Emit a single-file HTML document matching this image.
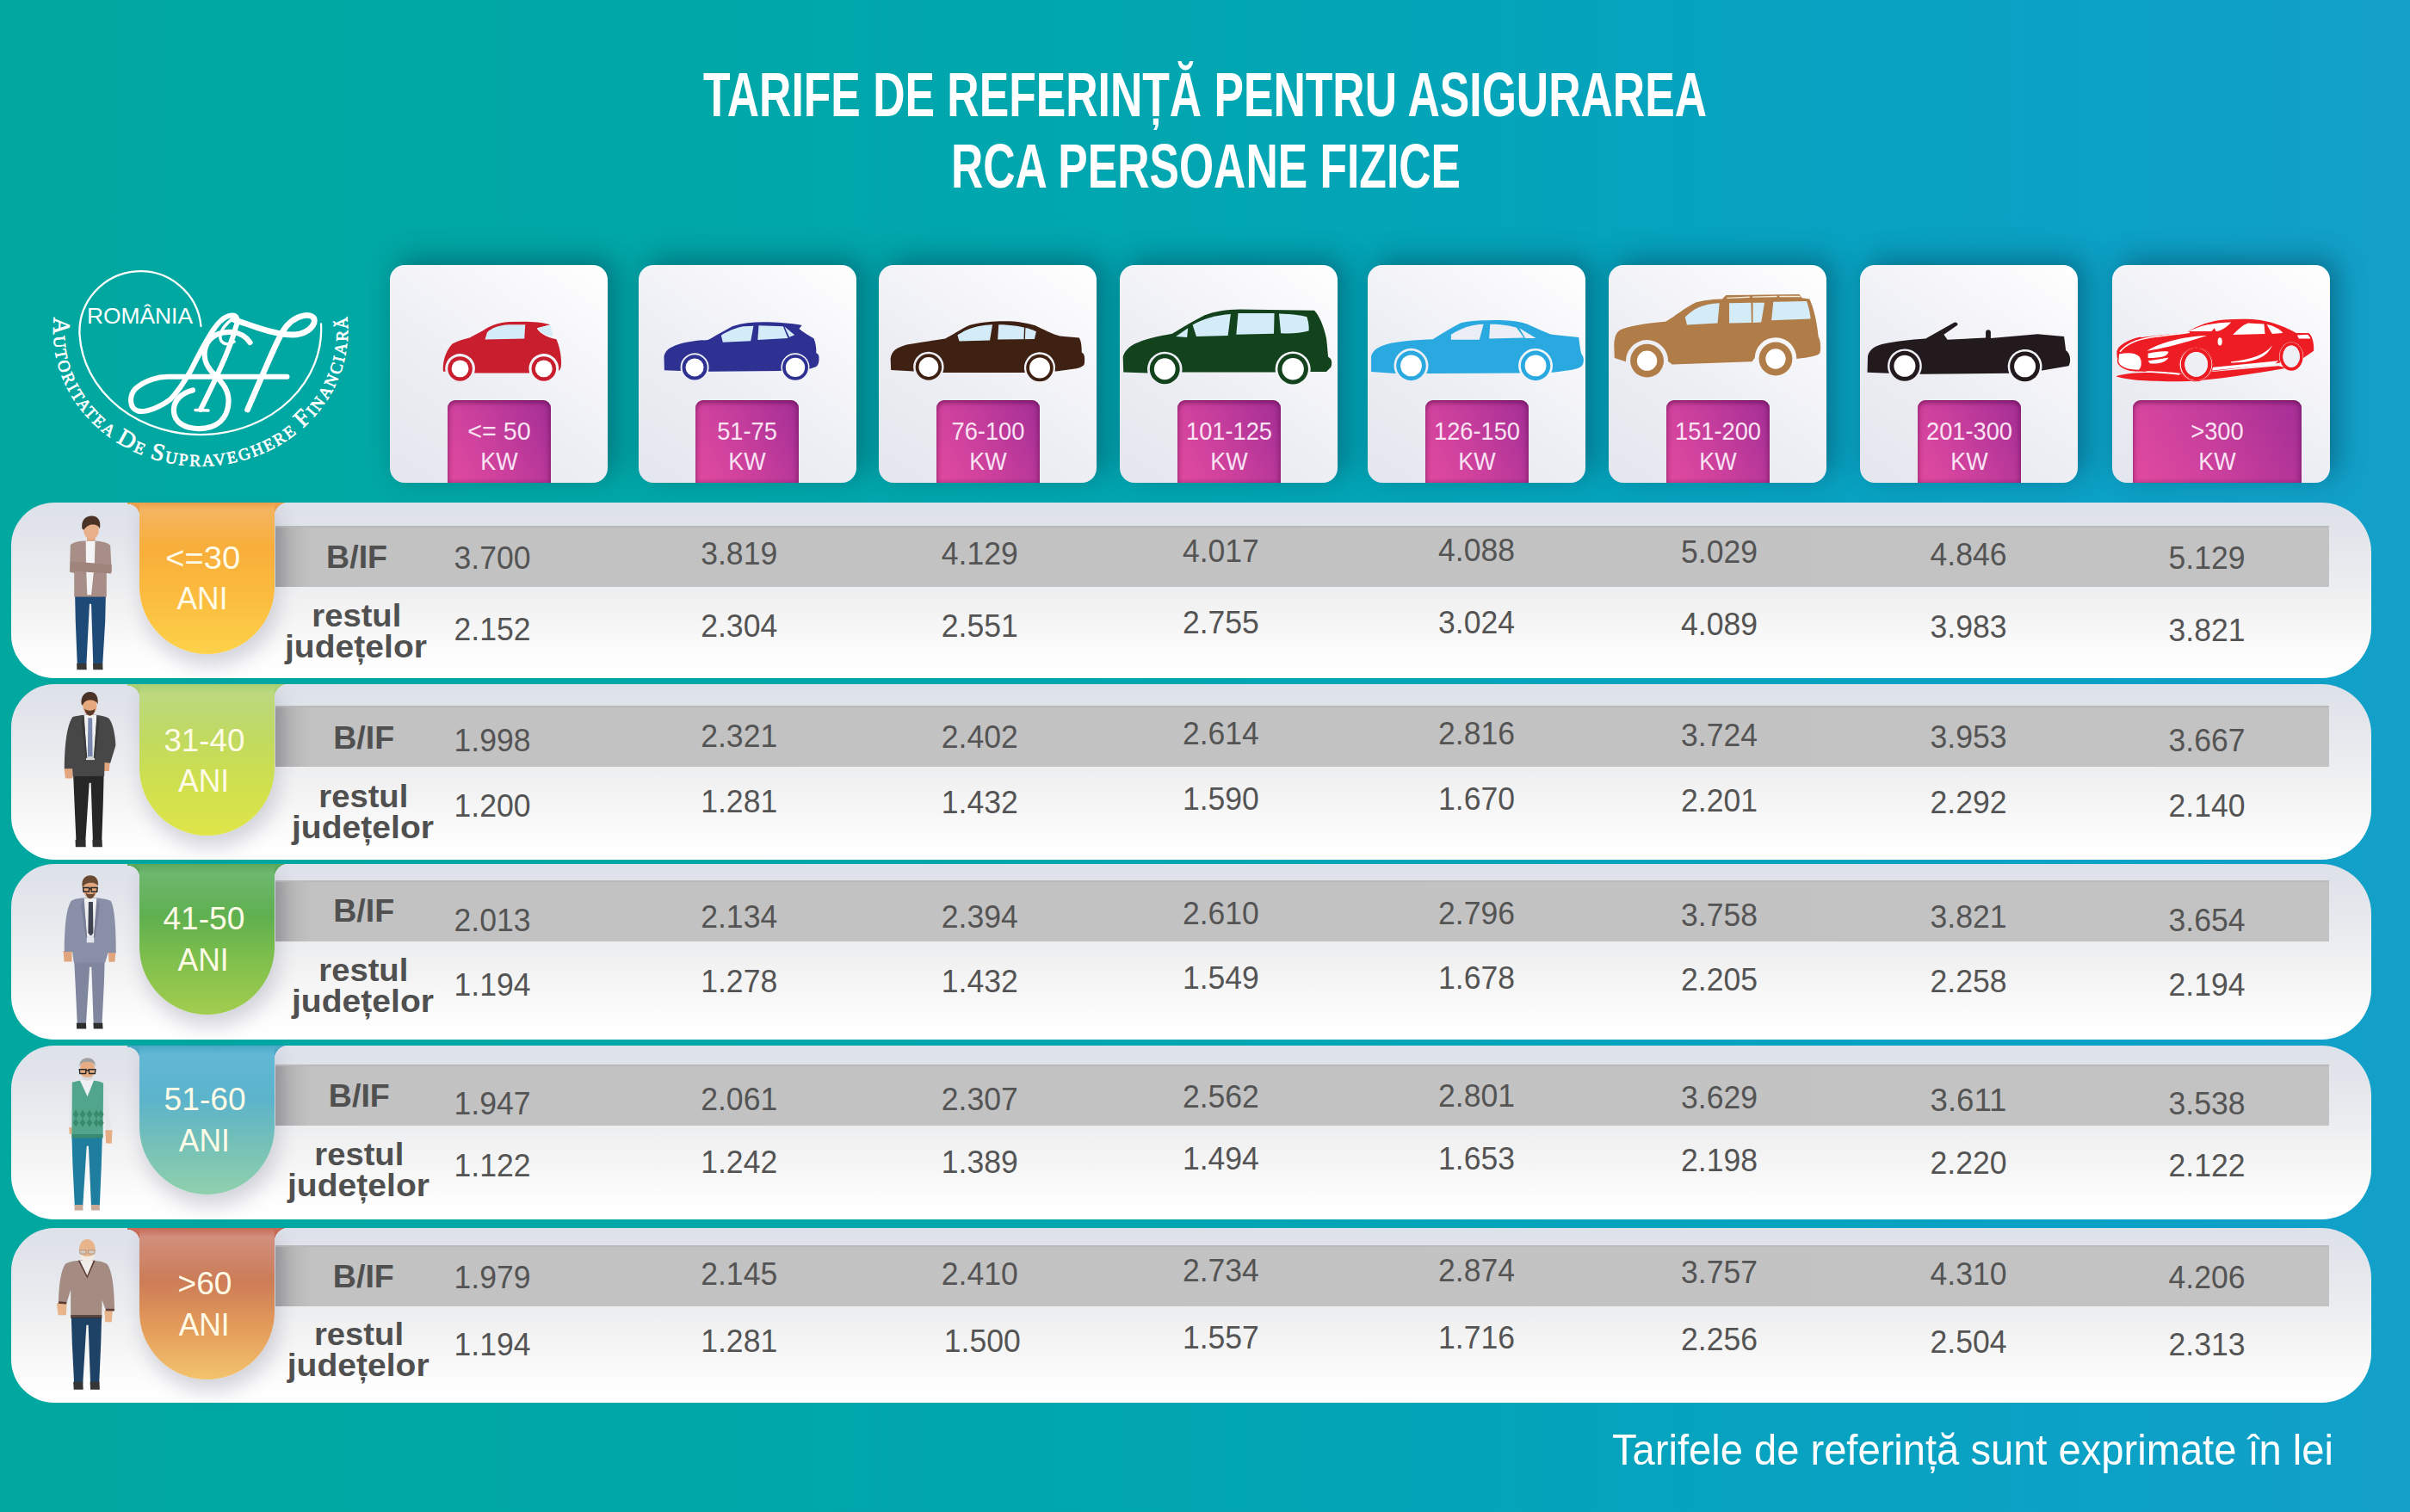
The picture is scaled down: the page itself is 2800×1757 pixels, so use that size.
<!DOCTYPE html>
<html><head><meta charset="utf-8"><title>Tarife RCA</title>
<style>
html,body{margin:0;padding:0;}
body{width:2800px;height:1757px;overflow:hidden;position:relative;
background:linear-gradient(90deg,#00a89f 0%,#00a7a9 30%,#01a6b2 50%,#06a3bf 70%,#0ca1c6 88%,#13a0c9 100%);
font-family:"Liberation Sans",sans-serif;}
.abs{position:absolute;}
.card{position:absolute;top:308px;width:253px;height:253px;border-radius:17px;
background:linear-gradient(35deg,#e3e6ed 0%,#eeeff5 45%,#ffffff 100%);
box-shadow:9px -8px 32px rgba(0,45,65,0.42);overflow:hidden;}
.lab{position:absolute;top:157px;height:96px;border-radius:9px 9px 0 0;
background:linear-gradient(60deg,#e24ba0 0%,#c93f9c 45%,#a32e96 100%);
box-shadow:inset 0 3px 5px rgba(90,10,70,0.45), inset 3px 0 6px rgba(90,10,70,0.15), inset -3px 0 6px rgba(90,10,70,0.2);}
.panel{position:absolute;left:13px;width:2742px;border-radius:50px 58px 58px 50px;
background:linear-gradient(180deg,#dde1e9 0%,#e0e3ea 12%,#eceef0 48%,#f1f1f2 55%,#f5f5f5 68%,#f9f9f9 78%,#fdfdfd 88%,#ffffff 100%);}
.band{position:absolute;left:320px;width:2386px;height:71px;
background:linear-gradient(90deg,#a3a3a3 0px,#b6b6b6 18px,#c2c2c2 42px,#c3c3c3 100%);border-top:2px solid #b9b9b9;box-sizing:border-box;}
.tab{position:absolute;left:162px;width:157px;border-radius:0 0 79px 79px;
box-shadow:4px 14px 22px rgba(70,70,110,0.22);}
.fl{position:absolute;width:14px;height:16px;}
svg{position:absolute;left:0;top:0;}
</style></head><body>

<div class="card" style="left:453px"><div class="lab" style="left:67px;width:120px"></div></div>
<div class="card" style="left:742px"><div class="lab" style="left:66px;width:120px"></div></div>
<div class="card" style="left:1021px"><div class="lab" style="left:67px;width:120px"></div></div>
<div class="card" style="left:1301px"><div class="lab" style="left:67px;width:120px"></div></div>
<div class="card" style="left:1589px"><div class="lab" style="left:67px;width:120px"></div></div>
<div class="card" style="left:1869px"><div class="lab" style="left:67px;width:120px"></div></div>
<div class="card" style="left:2161px"><div class="lab" style="left:67px;width:120px"></div></div>
<div class="card" style="left:2454px"><div class="lab" style="left:24px;width:196px"></div></div>
<div class="panel" style="top:584px;height:203.5px"></div>
<div class="band" style="top:611px"></div>
<div class="tab" style="top:584px;height:176px;background:linear-gradient(180deg,#ec9f4c 0%,#f4b560 5%,#f8ae3a 30%,#fbbd3f 65%,#fdd24a 100%)"></div>
<div class="fl" style="left:148px;top:584px;background:radial-gradient(circle at 0 100%,transparent 14px,#ec9f4c 14.5px)"></div>
<div class="fl" style="left:319px;top:584px;width:16px;background:radial-gradient(circle at 100% 100%,transparent 16px,#ec9f4c 16.5px)"></div>
<div class="panel" style="top:795px;height:203.5px"></div>
<div class="band" style="top:820px"></div>
<div class="tab" style="top:795px;height:176px;background:linear-gradient(180deg,#a9cf73 0%,#bcd97f 6%,#c0da60 35%,#cfe04e 65%,#dfe54a 100%)"></div>
<div class="fl" style="left:148px;top:795px;background:radial-gradient(circle at 0 100%,transparent 14px,#a9cf73 14.5px)"></div>
<div class="fl" style="left:319px;top:795px;width:16px;background:radial-gradient(circle at 100% 100%,transparent 16px,#a9cf73 16.5px)"></div>
<div class="panel" style="top:1004px;height:203.5px"></div>
<div class="band" style="top:1023px"></div>
<div class="tab" style="top:1004px;height:175px;background:linear-gradient(180deg,#5ca95e 0%,#6cb86e 6%,#5fb04f 35%,#80c04c 65%,#a2cd4f 100%)"></div>
<div class="fl" style="left:148px;top:1004px;background:radial-gradient(circle at 0 100%,transparent 14px,#5ca95e 14.5px)"></div>
<div class="fl" style="left:319px;top:1004px;width:16px;background:radial-gradient(circle at 100% 100%,transparent 16px,#5ca95e 16.5px)"></div>
<div class="panel" style="top:1214.5px;height:202.5px"></div>
<div class="band" style="top:1236.5px"></div>
<div class="tab" style="top:1214.5px;height:173.5px;background:linear-gradient(180deg,#4aa8c6 0%,#62b8d4 6%,#5bb3cc 35%,#74c0b8 65%,#90d0ad 100%)"></div>
<div class="fl" style="left:148px;top:1214.5px;background:radial-gradient(circle at 0 100%,transparent 14px,#4aa8c6 14.5px)"></div>
<div class="fl" style="left:319px;top:1214.5px;width:16px;background:radial-gradient(circle at 100% 100%,transparent 16px,#4aa8c6 16.5px)"></div>
<div class="panel" style="top:1427px;height:203px"></div>
<div class="band" style="top:1447px"></div>
<div class="tab" style="top:1427px;height:176px;background:linear-gradient(180deg,#c76a58 0%,#d18f7c 6%,#cc7c57 35%,#e39b5a 65%,#f3c36d 100%)"></div>
<div class="fl" style="left:148px;top:1427px;background:radial-gradient(circle at 0 100%,transparent 14px,#c76a58 14.5px)"></div>
<div class="fl" style="left:319px;top:1427px;width:16px;background:radial-gradient(circle at 100% 100%,transparent 16px,#c76a58 16.5px)"></div>
<svg width="2800" height="1757" viewBox="0 0 2800 1757">
<g fill="#ffffff" font-family="Liberation Sans" font-weight="bold" font-size="72.7">
<text x="817" y="135" textLength="1166" lengthAdjust="spacingAndGlyphs">TARIFE DE REFERINȚĂ PENTRU ASIGURAREA</text>
<text x="1105" y="218" textLength="592" lengthAdjust="spacingAndGlyphs">RCA PERSOANE FIZICE</text>
</g>

<g id="logo" fill="none" stroke="#ffffff" stroke-linecap="round" stroke-linejoin="round">
 <path d="M 373,376.5 A 140,122 0 0 1 92.5,389 A 70.7,70.7 0 0 1 233.5,379" stroke-width="2.3"/>
 <path d="M 333.5,437.8 L 197.7,437.8 C 185,437 168,442 157,452 C 150,460 150,474 160,477.5 C 170,480 188,472 198,464 C 206,456 214,444 222,430 C 232,410 240,395 248,383 C 254,374 262,367 269,366.5 C 276,366 277,372 274,380 C 270,395 262,415 254,432 C 246,450 239,464 233,476" stroke-width="6"/>
 <path d="M 227,476.5 L 242,477" stroke-width="3.5"/>
 <path d="M 290.5,398 C 286,391 280,387 270,386 C 255,385 243,391 239,403 C 235,415 240,427 250,436 C 260,446 266,455 265.5,467 C 265,482 257,492 245,496 C 232,500 215,498 207,490 C 200,482 200,470 208,462 C 213,457 218,455 224,453.5" stroke-width="6.2"/>
 <path d="M 271,370 C 262,376 255,385 256,393 C 257,400 266,402 272,397" stroke-width="3.5"/>
 <path d="M 271.8,371.5 C 280,374 288,377 300,381 C 315,386 330,389 340,389 C 352,389 362,383 365,375 C 367,368 360,365 352,367 C 342,369 334,376 328,386 C 320,400 312,420 304,438 C 298,452 292,466 287.6,476" stroke-width="6.8"/>
 <text x="101" y="375.7" fill="#ffffff" stroke="none" font-family="Liberation Sans" font-size="25" textLength="123" lengthAdjust="spacingAndGlyphs">ROMÂNIA</text>
 <path id="arcp" d="M 62.9,368.6 A 171,157 0 1 0 403.1,368.6" stroke="none"/>
 <text fill="#ffffff" stroke="#ffffff" stroke-width="0.7" font-family="Liberation Serif" font-size="19.5" letter-spacing="2.2"><textPath href="#arcp" startOffset="0"><tspan font-size="28">A</tspan>UTORITATEA <tspan font-size="28">D</tspan>E <tspan font-size="28">S</tspan>UPRAVEGHERE <tspan font-size="28">F</tspan>INANCIARĂ</textPath></text>
</g>

<g transform="translate(505,365) scale(0.06639)"><path d="M150,1005 C135,870 175,660 310,520 C400,470 520,440 610,415 L850,285 C950,215 1100,150 1300,135 L1600,130 C1800,135 1950,160 2025,185 L1790,245 C1820,320 1950,410 2130,440 C2185,560 2220,740 2215,870 C2212,940 2195,985 2165,995 L2168,1000 A262,262 0 1 0 1659,1030 L725,1030 L696,1030 A262,262 0 1 0 188,1005 Z" fill="#c81e2e"/><path d="M880,445 L920,320 C1000,240 1120,195 1300,185 L1585,183 L1570,430 Z" fill="#d3ecf8"/><path d="M1790,250 L2020,192 C2045,260 2060,330 2070,400 C1950,380 1870,330 1790,250 Z" fill="#d3ecf8"/><circle cx="445" cy="955" r="215" fill="#c81e2e"/><circle cx="445" cy="955" r="150" fill="#ffffff"/><circle cx="1910" cy="955" r="215" fill="#c81e2e"/><circle cx="1910" cy="955" r="150" fill="#ffffff"/></g>
<g transform="translate(765,365) scale(0.08091)"><path d="M85,805 L80,610 C95,540 130,500 200,470 C300,420 450,390 620,375 C680,380 720,370 760,345 C850,290 960,230 1060,175 C1200,130 1350,115 1500,115 C1700,115 1900,130 2060,160 L2020,210 C2080,260 2150,300 2230,350 C2260,420 2270,500 2265,560 C2300,570 2310,600 2305,660 C2300,720 2280,750 2250,760 L2160,790 L2168,790 A205,205 0 1 0 1766,815 L745,825 L716,825 A205,205 0 1 0 321,815 Z" fill="#2e3192"/><path d="M925,405 L900,305 C980,250 1100,200 1220,175 L1365,170 L1325,385 Z" fill="#d3ecf8"/><path d="M1425,370 L1440,165 L1790,175 L1860,345 Z" fill="#d3ecf8"/><path d="M1810,180 L1880,330 L1955,300 Z" fill="#d3ecf8"/><circle cx="520" cy="765" r="180" fill="#2e3192"/><circle cx="520" cy="765" r="130" fill="#ffffff"/><circle cx="1965" cy="765" r="185" fill="#2e3192"/><circle cx="1965" cy="765" r="138" fill="#ffffff"/></g>
<g transform="translate(1025,365) scale(0.10166)"><path d="M100,640 L95,510 C110,420 150,390 280,350 C450,320 600,300 720,280 C800,240 900,170 1000,125 C1150,90 1250,80 1400,80 C1550,80 1650,100 1750,130 C1850,180 1950,230 2030,250 L2250,270 C2270,300 2280,350 2280,440 C2310,450 2320,490 2310,570 C2300,600 2250,615 2200,625 L1990,655 L1973,655 A178,178 0 1 0 1631,670 L710,670 L692,670 A175,175 0 1 0 362,655 Z" fill="#3f2113"/><path d="M880,310 L860,240 C950,180 1050,130 1260,120 L1230,300 Z" fill="#d3ecf8"/><path d="M1320,290 L1330,120 C1450,120 1650,140 1760,200 L1740,285 Z" fill="#d3ecf8"/><circle cx="530" cy="605" r="150" fill="#3f2113"/><circle cx="530" cy="605" r="112" fill="#ffffff"/><circle cx="1800" cy="615" r="155" fill="#3f2113"/><circle cx="1800" cy="615" r="118" fill="#ffffff"/><path d="M1630,150 L1625,290" stroke="#3f2113" stroke-width="14"/></g>
<g transform="translate(1295,350) scale(0.10789)"><path d="M95,765 L90,600 C120,500 200,450 380,400 C480,375 570,360 620,350 C750,270 850,210 970,150 C1080,110 1200,90 1350,88 L2150,100 C2200,150 2250,260 2280,400 C2290,480 2295,550 2300,600 C2340,620 2345,660 2330,710 L2280,760 L2115,760 L2108,760 A190,190 0 1 0 1733,765 L735,765 L725,765 A188,188 0 1 0 357,775 Z" fill="#13431d"/><path d="M660,380 L790,290 L780,390 Z" fill="#d3ecf8"/><path d="M880,380 L840,255 C950,190 1100,150 1250,140 L1220,370 Z" fill="#d3ecf8"/><path d="M1310,360 L1330,130 L1720,130 L1715,350 Z" fill="#d3ecf8"/><path d="M1790,345 L1770,135 C1900,140 2000,150 2070,170 C2090,230 2095,290 2090,320 C2000,345 1900,350 1790,345 Z" fill="#d3ecf8"/><circle cx="540" cy="730" r="162" fill="#13431d"/><circle cx="540" cy="730" r="115" fill="#ffffff"/><circle cx="1920" cy="730" r="165" fill="#13431d"/><circle cx="1920" cy="730" r="118" fill="#ffffff"/></g>
<g transform="translate(1585,365) scale(0.10789)"><path d="M75,620 L75,450 C100,380 160,340 300,310 C450,285 600,275 740,270 C850,200 950,140 1040,95 C1150,70 1300,65 1450,65 C1600,68 1700,85 1760,110 C1850,150 1950,200 2020,220 L2310,250 C2320,330 2330,400 2340,430 C2370,460 2370,530 2340,560 C2310,590 2250,600 2030,628 L2015,628 A185,185 0 1 0 1678,635 L710,640 L669,640 A185,185 0 1 0 341,640 Z" fill="#2aa8e0"/><path d="M935,275 L935,220 C1050,150 1150,115 1285,110 L1240,275 Z" fill="#ebeef5"/><path d="M1345,265 L1355,110 C1480,110 1580,130 1640,145 L1720,255 Z" fill="#ebeef5"/><path d="M1670,150 L1850,260 L1735,260 Z" fill="#ebeef5"/><circle cx="505" cy="555" r="160" fill="#2aa8e0"/><circle cx="505" cy="555" r="115" fill="#ffffff"/><circle cx="1845" cy="555" r="160" fill="#2aa8e0"/><circle cx="1845" cy="555" r="115" fill="#ffffff"/></g>
<g transform="translate(1865,335) scale(0.10789)"><path d="M100,750 L95,610 C100,520 120,460 180,440 C300,400 500,370 650,360 C750,300 870,200 980,150 C1100,120 1200,115 1260,115 L1300,75 L2090,65 L2120,105 L2200,115 C2240,200 2280,350 2295,520 C2320,560 2325,650 2310,700 C2280,730 2200,745 2060,760 L2060,760 A225,225 0 1 0 1610,750 L1580,790 L720,820 L670,780 L678,780 A228,228 0 1 0 222,790 Z" fill="#b07c48"/><path d="M880,395 L860,310 C950,220 1050,170 1230,160 L1210,375 Z" fill="#d3ecf8"/><path d="M1335,375 L1335,160 L1570,155 L1575,370 Z" fill="#d3ecf8"/><path d="M1590,370 L1590,155 L1715,155 L1680,365 Z" fill="#d3ecf8"/><path d="M1790,345 L1810,145 L2170,140 C2190,200 2210,280 2210,330 Z" fill="#d3ecf8"/><circle cx="450" cy="780" r="180" fill="#b07c48"/><circle cx="450" cy="780" r="108" fill="#ffffff"/><circle cx="1835" cy="760" r="180" fill="#b07c48"/><circle cx="1835" cy="760" r="108" fill="#ffffff"/><path d="M1310,100 L1555,88 L1555,102 L1310,112 Z M1585,88 L1850,82 L1850,96 L1585,100 Z M1875,82 L2095,80 L2105,96 L1875,96 Z" fill="#f3ead8"/></g>
<g transform="translate(2160,365) scale(0.10581)"><path d="M90,640 L95,460 C110,400 150,360 250,330 C400,300 550,280 730,270 L1040,95 C1060,80 1090,100 1080,120 L930,225 L970,280 L1390,260 L1390,195 C1395,165 1440,165 1445,195 L1445,265 L1960,220 L2250,245 L2270,400 C2320,430 2330,520 2300,570 L2010,618 L2003,618 A188,188 0 1 0 1648,650 L690,660 L665,660 A188,188 0 1 0 330,650 Z" fill="#231a1e"/><circle cx="500" cy="570" r="165" fill="#231a1e"/><circle cx="500" cy="570" r="118" fill="#ffffff"/><circle cx="1820" cy="575" r="165" fill="#231a1e"/><circle cx="1820" cy="575" r="118" fill="#ffffff"/></g>
<g transform="translate(2450,360) scale(0.10373)"><path d="M90,470 C100,400 200,340 350,310 C500,290 700,270 870,255 C1000,170 1150,120 1300,110 C1450,100 1600,100 1700,115 C1850,140 2000,200 2100,260 L2240,260 C2290,300 2300,400 2295,460 L2180,540 L1880,600 L1150,690 L790,720 C600,700 400,690 300,690 C150,680 90,620 90,470 Z" fill="#ee1d23"/><path d="M80,745 C200,700 500,690 800,720 L1100,700 L1900,630 L2000,650 C1600,720 1200,780 900,800 C500,810 200,790 80,745 Z" fill="#ee1d23"/><path d="M110,490 C200,470 300,470 350,520 C385,580 375,655 335,680 C200,680 115,640 102,580 Z" fill="#ffffff" stroke="#ee1d23" stroke-width="14"/><path d="M430,460 C550,380 800,300 1100,290 C900,350 700,420 430,460 Z" fill="#ffffff"/><path d="M440,490 C520,470 620,460 670,470 C660,520 600,540 440,540 Z" fill="#ffffff"/><path d="M440,570 C540,560 620,545 670,535 C640,590 560,610 460,600 Z" fill="#ffffff"/><path d="M900,240 C1000,180 1200,140 1370,140 C1320,200 1250,240 1200,240 L1185,205 L1150,240 Z" fill="#ffffff"/><path d="M1390,280 C1450,220 1500,170 1560,150 L1740,160 L1750,270 Z" fill="#ffffff"/><path d="M1770,165 C1850,180 1920,220 1950,260 L1830,270 Z" fill="#ffffff"/><path d="M1150,645 L1900,570 L1860,610 L1160,680 Z" fill="#ffffff"/><path d="M1370,580 C1600,560 1750,500 1830,400 C1780,520 1650,595 1370,592 Z" fill="#ffffff"/><ellipse cx="1245" cy="355" rx="25" ry="45" fill="#ffffff"/><path d="M420,688 C550,690 700,700 800,712 L790,730 C680,720 540,708 420,700 Z" fill="#ffffff"/><path d="M2110,285 L2230,278 L2262,322 L2130,322 Z" fill="#ffffff"/><path d="M100,470 C150,380 250,330 360,310" fill="none" stroke="#ee1d23" stroke-width="12"/><path d="M125,470 C190,385 300,335 470,308 C650,285 800,268 905,252" fill="none" stroke="#ffffff" stroke-width="16"/><circle cx="978" cy="612" r="190" fill="#ffffff"/><circle cx="978" cy="612" r="186" fill="none" stroke="#ee1d23" stroke-width="10"/><ellipse cx="980" cy="610" rx="150" ry="160" fill="none" stroke="#ee1d23" stroke-width="44"/><ellipse cx="980" cy="612" rx="128" ry="138" fill="#eef0f6"/><ellipse cx="2045" cy="522" rx="135" ry="160" fill="#ffffff"/><ellipse cx="2045" cy="522" rx="112" ry="140" fill="none" stroke="#ee1d23" stroke-width="38"/><ellipse cx="2045" cy="522" rx="95" ry="122" fill="#eef0f6"/></g>
<g fill="#fbe3f4" font-family="Liberation Sans" font-size="29" text-anchor="middle">
<text x="580.0" y="511" textLength="73.4" lengthAdjust="spacingAndGlyphs">&lt;= 50</text>
<text x="580.0" y="545.5" textLength="43.4" lengthAdjust="spacingAndGlyphs">KW</text>
<text x="868.0" y="511" textLength="69.7" lengthAdjust="spacingAndGlyphs">51-75</text>
<text x="868.0" y="545.5" textLength="43.4" lengthAdjust="spacingAndGlyphs">KW</text>
<text x="1148.0" y="511" textLength="84.9" lengthAdjust="spacingAndGlyphs">76-100</text>
<text x="1148.0" y="545.5" textLength="43.4" lengthAdjust="spacingAndGlyphs">KW</text>
<text x="1428.0" y="511" textLength="100.0" lengthAdjust="spacingAndGlyphs">101-125</text>
<text x="1428.0" y="545.5" textLength="43.4" lengthAdjust="spacingAndGlyphs">KW</text>
<text x="1716.0" y="511" textLength="100.0" lengthAdjust="spacingAndGlyphs">126-150</text>
<text x="1716.0" y="545.5" textLength="43.4" lengthAdjust="spacingAndGlyphs">KW</text>
<text x="1996.0" y="511" textLength="100.0" lengthAdjust="spacingAndGlyphs">151-200</text>
<text x="1996.0" y="545.5" textLength="43.4" lengthAdjust="spacingAndGlyphs">KW</text>
<text x="2288.0" y="511" textLength="100.0" lengthAdjust="spacingAndGlyphs">201-300</text>
<text x="2288.0" y="545.5" textLength="43.4" lengthAdjust="spacingAndGlyphs">KW</text>
<text x="2576.0" y="511" textLength="61.4" lengthAdjust="spacingAndGlyphs">&gt;300</text>
<text x="2576.0" y="545.5" textLength="43.4" lengthAdjust="spacingAndGlyphs">KW</text>
</g>
<g transform="translate(60,590) scale(0.13235)"><path d="M205,770 L475,770 L470,1000 L447,1380 L365,1380 L348,845 L332,845 L305,1380 L225,1380 L210,1000 Z" fill="#1e4a77"/><path d="M220,1368 L305,1368 L308,1422 L222,1422 Z M362,1368 L447,1368 L450,1422 L365,1422 Z" fill="#3a3835"/><path d="M310,235 L382,235 L382,305 L310,305 Z" fill="#dfa47b"/><path d="M165,325 C195,298 255,290 300,290 L382,290 C432,295 492,302 515,330 L527,565 L482,575 L482,782 L198,782 L198,575 L158,565 Z" fill="#a78f87"/><path d="M300,292 L382,292 L376,500 L348,765 L312,765 L302,500 Z" fill="#f4f4f6"/><path d="M165,470 C250,478 400,488 527,500 L522,578 C400,572 260,562 168,556 Z" fill="#9e847b"/><ellipse cx="347" cy="190" rx="68" ry="90" fill="#e8b08a"/><path d="M268,185 C255,110 300,72 350,72 C412,72 435,118 423,185 C405,140 330,128 282,195 Z" fill="#4a3225"/></g>
<g transform="translate(60,800) scale(0.13235)"><path d="M190,755 L458,755 L452,1000 L440,1340 L362,1340 L345,830 L330,830 L297,1340 L215,1340 L200,1000 Z" fill="#262626"/><path d="M208,1328 L298,1328 L300,1392 L210,1392 Z M358,1328 L442,1328 L445,1392 L360,1392 Z" fill="#2f2f2f"/><path d="M110,700 L182,700 L185,790 L120,790 Z M440,640 L512,640 L505,725 L448,725 Z" fill="#e2a67e"/><path d="M185,250 C230,238 280,232 300,232 L392,232 C420,236 470,245 500,260 C540,300 560,420 562,500 L515,655 L465,650 L462,768 L186,772 L182,705 L112,705 C115,500 130,330 185,250 Z" fill="#474747"/><path d="M285,235 L395,235 L372,612 L308,612 Z" fill="#f2f2f2"/><path d="M320,258 L356,258 L360,600 L316,600 Z" fill="#7b88ad"/><path d="M302,600 L378,600 L378,628 L302,628 Z" fill="#d8d8d8"/><path d="M282,240 L312,610 L300,612 L262,300 Z M398,240 L368,610 L380,612 L420,300 Z" fill="#3b3b3b"/><ellipse cx="335" cy="150" rx="62" ry="88" fill="#e6a97e"/><path d="M288,175 C295,215 315,238 335,238 C360,238 378,215 382,175 C370,200 300,200 288,175 Z" fill="#5a3a28"/><path d="M262,140 C252,70 290,30 335,30 C390,30 412,72 405,140 C395,95 290,80 272,150 Z" fill="#4a3326"/></g>
<g transform="translate(60,1010) scale(0.13235)"><path d="M198,800 L466,800 L460,1000 L442,1362 L368,1362 L350,860 L333,860 L302,1362 L225,1362 L208,1000 Z" fill="#7f869e"/><path d="M218,1350 L302,1350 L304,1402 L220,1402 Z M366,1350 L447,1350 L450,1402 L368,1402 Z" fill="#2e2e2e"/><path d="M102,718 L178,718 L178,812 L110,812 Z M498,728 L562,728 L555,815 L502,815 Z" fill="#e0a57c"/><path d="M175,275 C220,258 270,252 300,252 L392,252 C430,256 490,265 520,280 C550,330 565,500 565,735 L495,735 L470,820 L195,822 L182,725 L112,725 C112,500 130,330 175,275 Z" fill="#8a8fa8"/><path d="M285,255 L395,255 L370,600 L310,600 Z" fill="#f0f0f2"/><path d="M324,288 L362,288 L366,560 L344,590 L320,560 Z" fill="#3e4452"/><path d="M308,582 L372,582 L372,645 L308,645 Z" fill="#e4e6ee"/><path d="M280,260 L312,600 L300,602 L258,320 Z M400,260 L368,600 L380,602 L424,320 Z" fill="#7a7f98"/><ellipse cx="338" cy="165" rx="64" ry="90" fill="#e0a57c"/><path d="M300,205 C305,240 320,258 338,258 C360,258 375,240 380,205 C365,225 315,225 300,205 Z" fill="#6b4a34"/><path d="M276,162 L330,162 L328,198 L280,198 Z M346,162 L402,162 L398,198 L350,198 Z M330,172 L346,172" fill="none" stroke="#2f2a28" stroke-width="11"/><path d="M268,150 C260,85 300,55 338,55 C385,55 415,88 408,150 C398,112 300,100 272,160 Z" fill="#6b4a34"/></g>
<g transform="translate(55,1220) scale(0.13235)"><path d="M190,300 L232,300 L240,700 L195,712 Z M478,300 L520,300 L560,720 L515,728 Z" fill="#e4e6ea"/><path d="M215,765 L482,765 L475,1000 L460,1368 L385,1368 L362,845 L345,845 L312,1368 L240,1368 L222,1000 Z" fill="#1f7da0"/><path d="M238,1360 L312,1360 L314,1410 L240,1410 Z M383,1360 L458,1360 L460,1410 L386,1410 Z" fill="#c9aa98"/><path d="M190,680 L270,690 L265,740 L195,738 Z M508,705 L570,705 L565,822 L515,820 Z" fill="#e6ad84"/><path d="M218,285 C250,275 280,270 300,268 L400,268 C430,272 470,278 492,292 L488,765 L215,765 Z" fill="#50a58b"/><path d="M285,265 L410,265 L352,410 Z" fill="#eef0f2"/><path d="M250,527 L276,565 L250,603 L224,565 Z M310,527 L336,565 L310,603 L284,565 Z M370,527 L396,565 L370,603 L344,565 Z M430,527 L456,565 L430,603 L404,565 Z M470,527 L496,565 L470,603 L444,565 Z M250,602 L276,640 L250,678 L224,640 Z M310,602 L336,640 L310,678 L284,640 Z M370,602 L396,640 L370,678 L344,640 Z M430,602 L456,640 L430,678 L404,640 Z M470,602 L496,640 L470,678 L444,640 Z" fill="#3a8a6e"/><path d="M215,740 L488,740 L488,775 L215,775 Z" fill="#3a8a72"/><ellipse cx="352" cy="170" rx="64" ry="92" fill="#e6ad84"/><path d="M282,150 C280,95 315,70 352,70 C392,70 425,95 422,150 C415,120 400,105 352,105 C305,105 290,120 282,150 Z" fill="#a0a0a0"/><path d="M282,172 L340,172 L337,208 L286,208 Z M364,172 L422,172 L418,208 L368,208 Z M340,182 L364,182" fill="none" stroke="#2e2a28" stroke-width="11"/><path d="M305,228 C315,258 335,270 352,270 C372,270 390,258 400,228 C380,245 325,245 305,228 Z" fill="#d8d8d8"/></g>
<g transform="translate(55,1430) scale(0.13235)"><path d="M210,755 L477,755 L470,1000 L455,1342 L378,1342 L360,830 L343,830 L312,1342 L235,1342 L218,1000 Z" fill="#1e4266"/><path d="M228,1328 L312,1328 L315,1395 L232,1395 Z M375,1328 L457,1328 L460,1395 L378,1395 Z" fill="#353535"/><path d="M82,640 L170,640 L165,742 L95,742 Z M500,700 L572,700 L565,802 L508,802 Z" fill="#e8b48c"/><path d="M160,290 C200,270 260,262 290,262 L405,262 C440,265 490,272 520,290 C565,330 590,500 590,700 L515,705 L480,610 L478,762 L205,762 L205,520 L168,640 L98,640 C100,480 120,340 160,290 Z" fill="#a48c83"/><path d="M98,622 L170,628 L166,646 L96,640 Z M515,685 L590,688 L586,706 L512,704 Z" fill="#5b3d35"/><path d="M270,262 L420,262 L350,420 Z" fill="#5b3d35"/><path d="M285,262 L405,262 L350,395 Z" fill="#f0eeea"/><path d="M205,740 L478,740 L478,770 L205,770 Z" fill="#3b2a26" opacity="0.7"/><ellipse cx="350" cy="165" rx="72" ry="90" fill="#e8b48c"/><path d="M285,200 C292,255 320,285 350,285 C382,285 410,255 418,200 C395,235 310,235 285,200 Z" fill="#efeae2"/><path d="M284,172 L342,172 L339,205 L288,205 Z M358,172 L418,172 L414,205 L362,205 Z" fill="#cfd8e0" opacity="0.6" stroke="#8a7a70" stroke-width="7"/></g>
<g fill="#fffbe6" font-family="Liberation Sans" font-size="37.5" text-anchor="middle">
<text x="235.8" y="660.5" textLength="87" lengthAdjust="spacingAndGlyphs">&lt;=30</text>
<text x="235.0" y="707.7" textLength="59" lengthAdjust="spacingAndGlyphs">ANI</text>
<text x="237.4" y="872.8" textLength="94" lengthAdjust="spacingAndGlyphs">31-40</text>
<text x="236.6" y="919.7" textLength="59" lengthAdjust="spacingAndGlyphs">ANI</text>
<text x="236.9" y="1080.4" textLength="95" lengthAdjust="spacingAndGlyphs">41-50</text>
<text x="236.1" y="1127.9" textLength="59" lengthAdjust="spacingAndGlyphs">ANI</text>
<text x="238.1" y="1290" textLength="95" lengthAdjust="spacingAndGlyphs">51-60</text>
<text x="237.29999999999998" y="1338.3" textLength="59" lengthAdjust="spacingAndGlyphs">ANI</text>
<text x="238.0" y="1503.9" textLength="63" lengthAdjust="spacingAndGlyphs">&gt;60</text>
<text x="237.2" y="1552.3" textLength="59" lengthAdjust="spacingAndGlyphs">ANI</text>
</g>
<g fill="#505050" font-family="Liberation Sans" font-weight="bold" font-size="37" text-anchor="middle">
<text x="414.6" y="660.2" textLength="71" lengthAdjust="spacingAndGlyphs">B/IF</text>
<text x="414.3" y="727.7" textLength="104" lengthAdjust="spacingAndGlyphs">restul</text>
<text x="413.5" y="764.0" textLength="165" lengthAdjust="spacingAndGlyphs">județelor</text>
<text x="422.7" y="870.1" textLength="71" lengthAdjust="spacingAndGlyphs">B/IF</text>
<text x="422.3" y="937.6" textLength="104" lengthAdjust="spacingAndGlyphs">restul</text>
<text x="421.5" y="973.9" textLength="165" lengthAdjust="spacingAndGlyphs">județelor</text>
<text x="422.7" y="1071.2" textLength="71" lengthAdjust="spacingAndGlyphs">B/IF</text>
<text x="422.3" y="1139.5" textLength="104" lengthAdjust="spacingAndGlyphs">restul</text>
<text x="421.5" y="1175.8" textLength="165" lengthAdjust="spacingAndGlyphs">județelor</text>
<text x="417.3" y="1286.2" textLength="71" lengthAdjust="spacingAndGlyphs">B/IF</text>
<text x="417.3" y="1354" textLength="104" lengthAdjust="spacingAndGlyphs">restul</text>
<text x="416.5" y="1390.3" textLength="165" lengthAdjust="spacingAndGlyphs">județelor</text>
<text x="422.3" y="1496.2" textLength="71" lengthAdjust="spacingAndGlyphs">B/IF</text>
<text x="417.0" y="1563" textLength="104" lengthAdjust="spacingAndGlyphs">restul</text>
<text x="416.2" y="1599.3" textLength="165" lengthAdjust="spacingAndGlyphs">județelor</text>
</g>
<g fill="#545454" font-family="Liberation Sans" font-size="37.5">
<text x="527.6" y="660.5" textLength="89" lengthAdjust="spacingAndGlyphs">3.700</text>
<text x="814.2" y="656.1" textLength="89" lengthAdjust="spacingAndGlyphs">3.819</text>
<text x="1093.8" y="656.3" textLength="89" lengthAdjust="spacingAndGlyphs">4.129</text>
<text x="1373.9" y="652.5" textLength="89" lengthAdjust="spacingAndGlyphs">4.017</text>
<text x="1671.0" y="652.3" textLength="89" lengthAdjust="spacingAndGlyphs">4.088</text>
<text x="1953.1" y="654.3" textLength="89" lengthAdjust="spacingAndGlyphs">5.029</text>
<text x="2242.5" y="656.9" textLength="89" lengthAdjust="spacingAndGlyphs">4.846</text>
<text x="2519.5" y="660.7" textLength="89" lengthAdjust="spacingAndGlyphs">5.129</text>
<text x="527.6" y="744.3" textLength="89" lengthAdjust="spacingAndGlyphs">2.152</text>
<text x="814.2" y="739.9" textLength="89" lengthAdjust="spacingAndGlyphs">2.304</text>
<text x="1093.8" y="740.1" textLength="89" lengthAdjust="spacingAndGlyphs">2.551</text>
<text x="1373.9" y="736.3" textLength="89" lengthAdjust="spacingAndGlyphs">2.755</text>
<text x="1671.0" y="736.1" textLength="89" lengthAdjust="spacingAndGlyphs">3.024</text>
<text x="1953.1" y="738.1" textLength="89" lengthAdjust="spacingAndGlyphs">4.089</text>
<text x="2242.5" y="740.7" textLength="89" lengthAdjust="spacingAndGlyphs">3.983</text>
<text x="2519.5" y="744.5" textLength="89" lengthAdjust="spacingAndGlyphs">3.821</text>
<text x="527.6" y="872.8" textLength="89" lengthAdjust="spacingAndGlyphs">1.998</text>
<text x="814.2" y="868.4" textLength="89" lengthAdjust="spacingAndGlyphs">2.321</text>
<text x="1093.8" y="868.6" textLength="89" lengthAdjust="spacingAndGlyphs">2.402</text>
<text x="1373.9" y="864.8" textLength="89" lengthAdjust="spacingAndGlyphs">2.614</text>
<text x="1671.0" y="864.6" textLength="89" lengthAdjust="spacingAndGlyphs">2.816</text>
<text x="1953.1" y="866.6" textLength="89" lengthAdjust="spacingAndGlyphs">3.724</text>
<text x="2242.5" y="869.2" textLength="89" lengthAdjust="spacingAndGlyphs">3.953</text>
<text x="2519.5" y="873.0" textLength="89" lengthAdjust="spacingAndGlyphs">3.667</text>
<text x="527.6" y="948.8" textLength="89" lengthAdjust="spacingAndGlyphs">1.200</text>
<text x="814.2" y="944.4" textLength="89" lengthAdjust="spacingAndGlyphs">1.281</text>
<text x="1093.8" y="944.6" textLength="89" lengthAdjust="spacingAndGlyphs">1.432</text>
<text x="1373.9" y="940.8" textLength="89" lengthAdjust="spacingAndGlyphs">1.590</text>
<text x="1671.0" y="940.6" textLength="89" lengthAdjust="spacingAndGlyphs">1.670</text>
<text x="1953.1" y="942.6" textLength="89" lengthAdjust="spacingAndGlyphs">2.201</text>
<text x="2242.5" y="945.2" textLength="89" lengthAdjust="spacingAndGlyphs">2.292</text>
<text x="2519.5" y="949.0" textLength="89" lengthAdjust="spacingAndGlyphs">2.140</text>
<text x="527.6" y="1082.0" textLength="89" lengthAdjust="spacingAndGlyphs">2.013</text>
<text x="814.2" y="1077.6" textLength="89" lengthAdjust="spacingAndGlyphs">2.134</text>
<text x="1093.8" y="1077.8" textLength="89" lengthAdjust="spacingAndGlyphs">2.394</text>
<text x="1373.9" y="1074.0" textLength="89" lengthAdjust="spacingAndGlyphs">2.610</text>
<text x="1671.0" y="1073.8" textLength="89" lengthAdjust="spacingAndGlyphs">2.796</text>
<text x="1953.1" y="1075.8" textLength="89" lengthAdjust="spacingAndGlyphs">3.758</text>
<text x="2242.5" y="1078.4" textLength="89" lengthAdjust="spacingAndGlyphs">3.821</text>
<text x="2519.5" y="1082.2" textLength="89" lengthAdjust="spacingAndGlyphs">3.654</text>
<text x="527.6" y="1156.9" textLength="89" lengthAdjust="spacingAndGlyphs">1.194</text>
<text x="814.2" y="1152.5" textLength="89" lengthAdjust="spacingAndGlyphs">1.278</text>
<text x="1093.8" y="1152.7" textLength="89" lengthAdjust="spacingAndGlyphs">1.432</text>
<text x="1373.9" y="1148.9" textLength="89" lengthAdjust="spacingAndGlyphs">1.549</text>
<text x="1671.0" y="1148.7" textLength="89" lengthAdjust="spacingAndGlyphs">1.678</text>
<text x="1953.1" y="1150.7" textLength="89" lengthAdjust="spacingAndGlyphs">2.205</text>
<text x="2242.5" y="1153.3" textLength="89" lengthAdjust="spacingAndGlyphs">2.258</text>
<text x="2519.5" y="1157.1" textLength="89" lengthAdjust="spacingAndGlyphs">2.194</text>
<text x="527.6" y="1294.5" textLength="89" lengthAdjust="spacingAndGlyphs">1.947</text>
<text x="814.2" y="1290.1" textLength="89" lengthAdjust="spacingAndGlyphs">2.061</text>
<text x="1093.8" y="1290.3" textLength="89" lengthAdjust="spacingAndGlyphs">2.307</text>
<text x="1373.9" y="1286.5" textLength="89" lengthAdjust="spacingAndGlyphs">2.562</text>
<text x="1671.0" y="1286.3" textLength="89" lengthAdjust="spacingAndGlyphs">2.801</text>
<text x="1953.1" y="1288.3" textLength="89" lengthAdjust="spacingAndGlyphs">3.629</text>
<text x="2242.5" y="1290.9" textLength="89" lengthAdjust="spacingAndGlyphs">3.611</text>
<text x="2519.5" y="1294.7" textLength="89" lengthAdjust="spacingAndGlyphs">3.538</text>
<text x="527.6" y="1367.2" textLength="89" lengthAdjust="spacingAndGlyphs">1.122</text>
<text x="814.2" y="1362.8" textLength="89" lengthAdjust="spacingAndGlyphs">1.242</text>
<text x="1093.8" y="1363.0" textLength="89" lengthAdjust="spacingAndGlyphs">1.389</text>
<text x="1373.9" y="1359.2" textLength="89" lengthAdjust="spacingAndGlyphs">1.494</text>
<text x="1671.0" y="1359.0" textLength="89" lengthAdjust="spacingAndGlyphs">1.653</text>
<text x="1953.1" y="1361.0" textLength="89" lengthAdjust="spacingAndGlyphs">2.198</text>
<text x="2242.5" y="1363.6" textLength="89" lengthAdjust="spacingAndGlyphs">2.220</text>
<text x="2519.5" y="1367.4" textLength="89" lengthAdjust="spacingAndGlyphs">2.122</text>
<text x="527.6" y="1496.9" textLength="89" lengthAdjust="spacingAndGlyphs">1.979</text>
<text x="814.2" y="1492.5" textLength="89" lengthAdjust="spacingAndGlyphs">2.145</text>
<text x="1093.8" y="1492.7" textLength="89" lengthAdjust="spacingAndGlyphs">2.410</text>
<text x="1373.9" y="1488.9" textLength="89" lengthAdjust="spacingAndGlyphs">2.734</text>
<text x="1671.0" y="1488.7" textLength="89" lengthAdjust="spacingAndGlyphs">2.874</text>
<text x="1953.1" y="1490.7" textLength="89" lengthAdjust="spacingAndGlyphs">3.757</text>
<text x="2242.5" y="1493.3" textLength="89" lengthAdjust="spacingAndGlyphs">4.310</text>
<text x="2519.5" y="1497.1" textLength="89" lengthAdjust="spacingAndGlyphs">4.206</text>
<text x="527.6" y="1575.2" textLength="89" lengthAdjust="spacingAndGlyphs">1.194</text>
<text x="814.2" y="1570.8" textLength="89" lengthAdjust="spacingAndGlyphs">1.281</text>
<text x="1096.8" y="1571.0" textLength="89" lengthAdjust="spacingAndGlyphs">1.500</text>
<text x="1373.9" y="1567.2" textLength="89" lengthAdjust="spacingAndGlyphs">1.557</text>
<text x="1671.0" y="1567.0" textLength="89" lengthAdjust="spacingAndGlyphs">1.716</text>
<text x="1953.1" y="1569.0" textLength="89" lengthAdjust="spacingAndGlyphs">2.256</text>
<text x="2242.5" y="1571.6" textLength="89" lengthAdjust="spacingAndGlyphs">2.504</text>
<text x="2519.5" y="1575.4" textLength="89" lengthAdjust="spacingAndGlyphs">2.313</text>
</g>
<text x="1873" y="1702" fill="#ffffff" font-family="Liberation Sans" font-size="49.5" textLength="838" lengthAdjust="spacingAndGlyphs">Tarifele de referință sunt exprimate în lei</text>
</svg>
</body></html>
